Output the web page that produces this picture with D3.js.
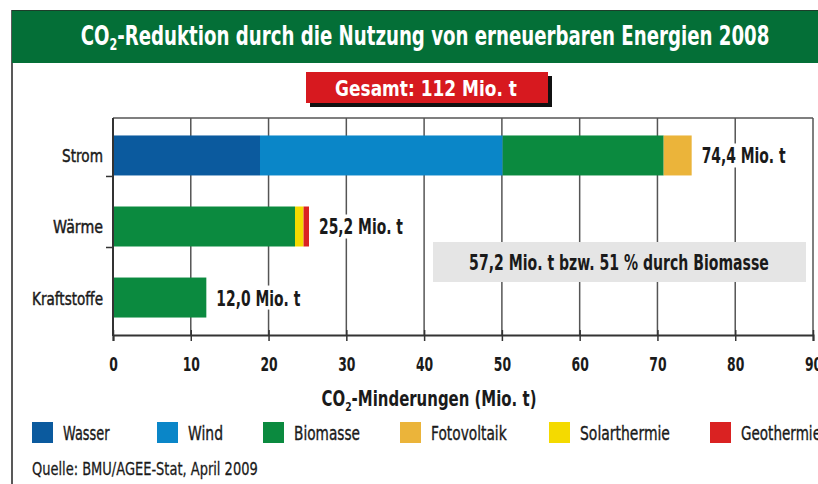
<!DOCTYPE html>
<html>
<head>
<meta charset="utf-8">
<script src="https://cdn.jsdelivr.net/npm/d3@7"></script>
<style>
  body { margin: 0; background: #fff; }
  text { font-family: "DejaVu Sans", "Liberation Sans", sans-serif; }
</style>
</head>
<body>
<script>
const categories = ["Strom", "Wärme", "Kraftstoffe"];
const sources = ["Wasser", "Wind", "Biomasse", "Fotovoltaik", "Solarthermie", "Geothermie"];
const wasser = [18.9, 0, 0];
const wind = [31.2, 0, 0];
const biomasse = [20.7, 23.4, 12.0];
const fotovoltaik = [3.6, 0, 0];
const solarthermie = [0, 1.1, 0];
const geothermie = [0, 0.7, 0];
const totalLabels = ["74,4 Mio. t", "25,2 Mio. t", "12,0 Mio. t"];
const xTicks = [0, 10, 20, 30, 40, 50, 60, 70, 80, 90];
const colors = ["#0b5a9e", "#0a86c8", "#0b8a3f", "#ebb43a", "#f4da00", "#da2222"];

const W = 818, H = 484;

// squeeze a text horizontally around its x anchor (condensed look)
function fit(sel, width) {
  sel.each(function (d, i) {
    let w = typeof width === "function" ? width(d, i) : width;
    let bw = this.getBBox().width;
    let s = w / bw;
    let ax = +(this.getAttribute("x") || 0);
    d3.select(this).attr("transform",
      "translate(" + ax + ",0) scale(" + s + ",1) translate(" + (-ax) + ",0)");
  });
}
function squeeze(sel, s) {
  sel.each(function () {
    let ax = +(this.getAttribute("x") || 0);
    d3.select(this).attr("transform",
      "translate(" + ax + ",0) scale(" + s + ",1) translate(" + (-ax) + ",0)");
  });
}

let svg = d3.select("body").append("svg")
  .attr("width", W)
  .attr("height", H);

// frame
svg.append("line").attr("x1", 12).attr("x2", 12).attr("y1", 10).attr("y2", H)
  .attr("stroke", "#222").attr("stroke-width", 1.5);

// header
svg.append("rect").attr("x", 12).attr("y", 10).attr("width", W - 12).attr("height", 53)
  .attr("fill", "#046f37");
svg.append("line").attr("x1", 12).attr("x2", W).attr("y1", 10.5).attr("y2", 10.5)
  .attr("stroke", "#1d3d2a").attr("stroke-width", 1);
let title = svg.append("text").attr("x", 425).attr("y", 45)
  .attr("text-anchor", "middle").attr("fill", "#fff")
  .style("font-size", "26px").style("font-weight", "bold");
title.append("tspan").text("CO");
title.append("tspan").attr("dy", 5).style("font-size", "16px").text("2");
title.append("tspan").attr("dy", -5).text("-Reduktion durch die Nutzung von erneuerbaren Energien 2008");
fit(title, 689);

// total badge
svg.append("rect").attr("x", 310).attr("y", 76).attr("width", 242).attr("height", 31).attr("fill", "#111");
svg.append("rect").attr("x", 306).attr("y", 72).attr("width", 242).attr("height", 31).attr("fill", "#d7191f");
svg.append("text").attr("x", 426).attr("y", 96).attr("text-anchor", "middle")
  .attr("fill", "#fff").style("font-size", "21px").style("font-weight", "bold")
  .text("Gesamt: 112 Mio. t")
  .call(fit, 182);

// scales
let x = d3.scaleLinear().domain([0, 90]).range([113, 813]);
let y = d3.scaleBand().domain(categories).range([118, 335])
  .paddingInner(0.437).paddingOuter(0.246);

// gridlines
let g = svg.append("g");
g.selectAll("line.grid")
  .data(xTicks.slice(1))
  .enter().append("line")
  .attr("x1", d => x(d)).attr("x2", d => x(d))
  .attr("y1", 118).attr("y2", 335)
  .attr("stroke", "#555").attr("stroke-width", 1.5);
g.append("line").attr("x1", x(0)).attr("x2", x(90)).attr("y1", 118).attr("y2", 118)
  .attr("stroke", "#555").attr("stroke-width", 1.5);

// annotation box
svg.append("rect").attr("x", 433).attr("y", 242).attr("width", 373).attr("height", 40)
  .attr("fill", "#e5e5e5");
svg.append("text").attr("x", 619).attr("y", 270).attr("text-anchor", "middle")
  .attr("fill", "#1a1a1a").style("font-size", "21px").style("font-weight", "bold")
  .text("57,2 Mio. t bzw. 51 % durch Biomasse")
  .call(fit, 300);

// stacked bars
let rows = categories.map((c, i) => ({
  cat: c, Wasser: wasser[i], Wind: wind[i], Biomasse: biomasse[i],
  Fotovoltaik: fotovoltaik[i], Solarthermie: solarthermie[i], Geothermie: geothermie[i]
}));
let stack = d3.stack().keys(sources)(rows);

svg.selectAll("g.layer")
  .data(stack)
  .enter().append("g")
  .attr("fill", (d, i) => colors[i])
  .selectAll("rect")
  .data(d => d)
  .enter().append("rect")
  .attr("x", d => x(d[0]))
  .attr("y", d => y(d.data.cat))
  .attr("width", d => x(d[1]) - x(d[0]))
  .attr("height", y.bandwidth());

// totals
let totals = rows.map(r => sources.reduce((s, k) => s + r[k], 0));
let lab = svg.selectAll("g.total")
  .data(categories)
  .enter().append("g");
lab.append("rect")
  .attr("x", (d, i) => x(totals[i]) + 6)
  .attr("y", d => y(d) + 8)
  .attr("width", 92).attr("height", 24).attr("fill", "#fff");
lab.append("text")
  .attr("x", (d, i) => x(totals[i]) + 10)
  .attr("y", d => y(d) + y.bandwidth() / 2 + 8)
  .attr("fill", "#1a1a1a").style("font-size", "21px").style("font-weight", "bold")
  .text((d, i) => totalLabels[i])
  .call(fit, 84);

// y axis
svg.append("line").attr("x1", 113).attr("x2", 113).attr("y1", 118).attr("y2", 336)
  .attr("stroke", "#333").attr("stroke-width", 2);
svg.selectAll("line.ytick")
  .data(categories.slice(0, 2))
  .enter().append("line")
  .attr("x1", 106).attr("x2", 113)
  .attr("y1", d => y(d) + y.bandwidth() + 1).attr("y2", d => y(d) + y.bandwidth() + 1)
  .attr("stroke", "#333").attr("stroke-width", 1.5);
svg.selectAll("text.ylab")
  .data(categories)
  .enter().append("text")
  .attr("x", 103)
  .attr("y", d => y(d) + y.bandwidth() / 2 + 7)
  .attr("text-anchor", "end").attr("fill", "#1a1a1a")
  .attr("stroke", "#1a1a1a").attr("stroke-width", 0.5)
  .style("font-size", "18px")
  .text(d => d)
  .call(fit, (d, i) => [41, 50, 71][i]);

// x axis
let xAxis = svg.append("g").attr("transform", "translate(0,335)")
  .call(d3.axisBottom(x).tickValues(xTicks).tickSize(6).tickPadding(16).tickFormat(d3.format("d")));
xAxis.select(".domain").attr("stroke", "#333").attr("stroke-width", 2);
xAxis.selectAll(".tick line").attr("y1", -5).attr("stroke", "#333").attr("stroke-width", 1.5);
xAxis.selectAll(".tick text")
  .attr("fill", "#1a1a1a")
  .style("font-size", "20px").style("font-weight", "bold")
  .style("font-family", "'DejaVu Sans', sans-serif")
  .call(squeeze, 0.62);

let xt = svg.append("text").attr("x", 429).attr("y", 406).attr("text-anchor", "middle")
  .attr("fill", "#1a1a1a").style("font-size", "21px").style("font-weight", "bold");
xt.append("tspan").text("CO");
xt.append("tspan").attr("dy", 5).style("font-size", "13px").text("2");
xt.append("tspan").attr("dy", -5).text("-Minderungen (Mio. t)");
fit(xt, 215);

// legend
const legendX = [32, 157, 263, 400, 549, 710];
const legendW = [47, 35, 66, 76, 90, 80];
let leg = svg.selectAll("g.leg")
  .data(sources)
  .enter().append("g")
  .attr("transform", (d, i) => "translate(" + legendX[i] + ",422)");
leg.append("rect").attr("width", 21).attr("height", 21).attr("fill", (d, i) => colors[i]);
leg.append("text").attr("x", 31).attr("y", 18)
  .attr("fill", "#1a1a1a").attr("stroke", "#1a1a1a").attr("stroke-width", 0.4)
  .style("font-size", "20px")
  .text(d => d)
  .call(fit, (d, i) => legendW[i]);

// source
svg.append("text").attr("x", 32).attr("y", 475)
  .attr("fill", "#1a1a1a").attr("stroke", "#1a1a1a").attr("stroke-width", 0.3)
  .style("font-size", "18px")
  .text("Quelle: BMU/AGEE-Stat, April 2009")
  .call(fit, 226);
</script>
</body>
</html>
